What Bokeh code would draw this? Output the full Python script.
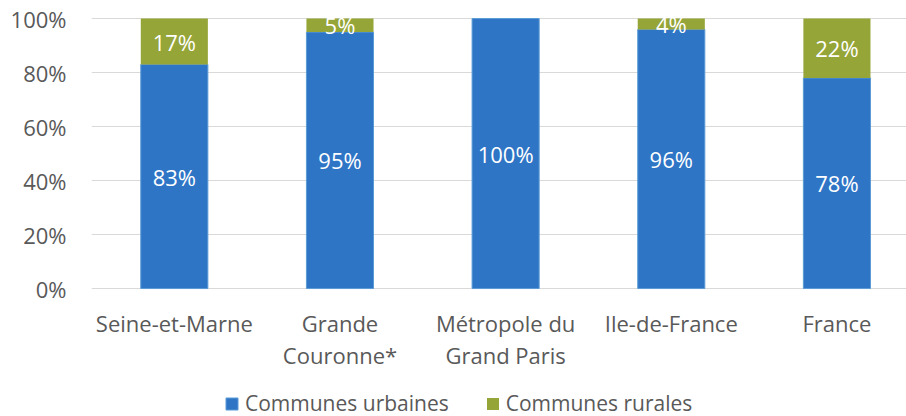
from bokeh.plotting import figure
from bokeh.models import Range1d, FixedTicker, Legend, ColumnDataSource, NumeralTickFormatter
from bokeh.core.properties import value
from bokeh.embed import file_html
from bokeh.resources import INLINE

categories = ["Seine-et-Marne", "Grande\nCouronne*", "Métropole du\nGrand Paris", "Ile-de-France", "France"]
urbaines = [83, 95, 100, 96, 78]
rurales = [17, 5, 0, 4, 22]
y_ticks = [0, 20, 40, 60, 80, 100]

FONT = "Open Sans"
BLUE = "#2E75C6"
GREEN = "#95A537"
GREY = "#595959"

xs = list(range(len(categories)))
src = ColumnDataSource(dict(
    x=xs,
    urb=[u / 100 for u in urbaines],
    rur=[r / 100 for r in rurales],
))

# frame runs from the top of the bars down to the bottom of the picture,
# so that category labels and legend sit inside it
p = figure(frame_width=815, frame_height=399, output_backend="svg", toolbar_location=None,
           x_range=Range1d(-0.5, 4.42), y_range=Range1d(-0.474, 1.004),
           min_border_left=91, min_border_right=0, min_border_top=17, min_border_bottom=0)
p.outline_line_color = None

rs = p.vbar_stack(["urb", "rur"], x="x", width=0.405, source=src,
                  fill_color=[BLUE, GREEN], line_color=["#5B9BD5", None], line_width=1)

# value labels
ux, uy, ut = [], [], []
for i, (u, r) in enumerate(zip(urbaines, rurales)):
    if u > 0:
        ux.append(i); uy.append(u / 200); ut.append(f"{u}%")
    if r > 0:
        ux.append(i); uy.append((u + r / 2) / 100); ut.append(f"{r}%")
p.text(x=ux, y=uy, text=ut, text_color="white", text_font=value(FONT),
       text_font_size="22px", text_align="center", text_baseline="middle")

# category labels under the baseline
p.text(x=xs, y=[0] * len(xs), text=categories, y_offset=19,
       text_color=GREY, text_font=value(FONT), text_font_size="22px",
       text_align="center", text_baseline="top", text_line_height=1.09)

p.xgrid.grid_line_color = None
p.ygrid.grid_line_color = "#D9D9D9"
p.ygrid.grid_line_width = 1
p.ygrid.ticker = FixedTicker(ticks=[t / 100 for t in y_ticks])

p.xaxis.visible = False

p.yaxis.ticker = FixedTicker(ticks=[t / 100 for t in y_ticks])
p.yaxis.formatter = NumeralTickFormatter(format="0%")
p.yaxis.axis_line_color = None
p.yaxis.major_tick_line_color = None
p.yaxis.minor_tick_line_color = None
p.yaxis.major_label_standoff = 19
p.yaxis.major_label_text_font = FONT
p.yaxis.major_label_text_font_size = "22px"
p.yaxis.major_label_text_color = GREY

legend = Legend(items=[("Communes urbaines", [rs[0]]), ("Communes rurales", [rs[1]])],
                orientation="horizontal", location=(133, -1),
                label_text_font=FONT, label_text_font_size="21px", label_text_color=GREY,
                glyph_width=15, glyph_height=15, label_standoff=6, spacing=36,
                border_line_color=None, background_fill_alpha=0, margin=0, padding=0)
p.add_layout(legend, "center")

open("out.html", "w").write(file_html(p, INLINE))
